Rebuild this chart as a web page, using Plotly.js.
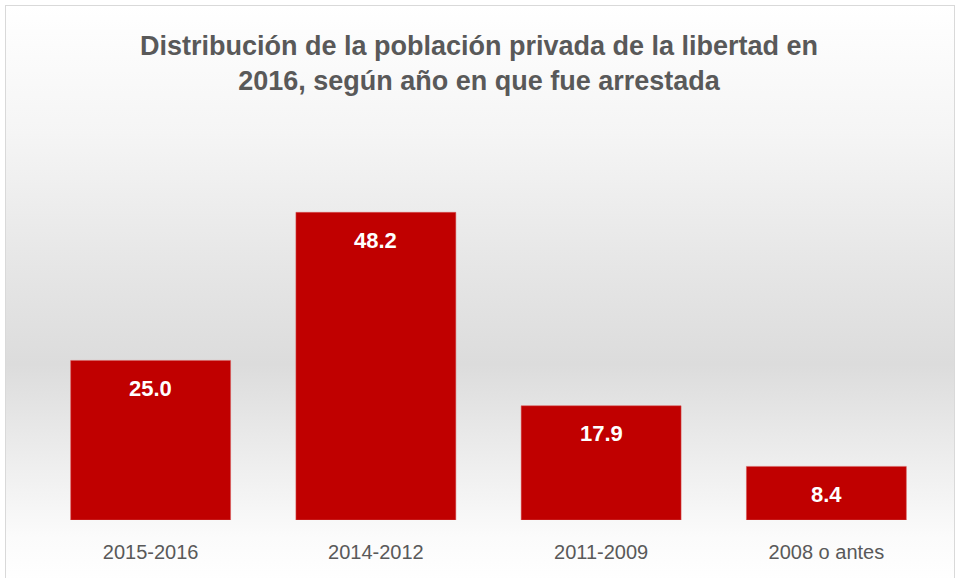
<!DOCTYPE html>
<html>
<head>
<meta charset="utf-8">
<script src="https://cdn.plot.ly/plotly-3.0.1.min.js"></script>
<style>
  html, body { margin: 0; padding: 0; width: 958px; height: 578px; overflow: hidden; background: #fff; }
  #bg {
    position: absolute; left: 5px; top: 5px; width: 950px; height: 580px;
    border: 1px solid #d9d9d9; box-sizing: border-box;
    background: linear-gradient(to bottom, #ffffff 0%, #f5f5f5 22%, #e6e6e6 45%, #dcdcdc 62%, #efefef 80%, #fbfbfb 92%, #ffffff 100%);
  }
  #chart { position: absolute; left: 0; top: 0; width: 958px; height: 578px; }
</style>
</head>
<body>
<div id="bg"></div>
<div id="chart"></div>
<script>
const periodos = ['2015-2016', '2014-2012', '2011-2009', '2008 o antes'];
const porcentajes = [25.0, 48.2, 17.9, 8.4];

const rojo = '#c00000';
const gris_texto = '#595959';
const fuente = '"Liberation Sans", "Noto Sans", sans-serif';

const data = [{
    type: 'bar',
    x: periodos,
    y: porcentajes,
    marker: {color: rojo, line: {color: '#d85a5a', width: 0.5}},
    hoverinfo: 'x+y'
}];

// etiquetas blancas dentro de la barra, cerca del borde superior
const etiquetas = periodos.map((p, i) => ({
    x: p,
    y: porcentajes[i],
    xref: 'x', yref: 'y',
    text: '<b>' + porcentajes[i].toFixed(1) + '</b>',
    showarrow: false,
    yanchor: 'middle',
    yshift: -28,
    font: {family: fuente, size: 22, color: '#ffffff'}
}));

const layout = {
    width: 958,
    height: 578,
    paper_bgcolor: 'rgba(0,0,0,0)',
    plot_bgcolor: 'rgba(0,0,0,0)',
    margin: {l: 38, r: 19, t: 137, b: 58},
    title: {
        text: '<b>Distribución de la población privada de la libertad en<br>2016, según año en que fue arrestada</b>',
        x: 0.5, xanchor: 'center',
        y: 0.905, yanchor: 'top',
        font: {family: fuente, size: 27, color: gris_texto}
    },
    bargap: 0.29,
    xaxis: {
        showgrid: false, zeroline: false, showline: false,
        ticks: '',
        ticklabelstandoff: 18,
        tickfont: {family: fuente, size: 20, color: gris_texto}
    },
    yaxis: {
        range: [0, 60],
        visible: false,
        showgrid: false, zeroline: false
    },
    annotations: etiquetas,
    showlegend: false
};

Plotly.newPlot('chart', data, layout, {displayModeBar: false, staticPlot: true});
</script>
</body>
</html>
